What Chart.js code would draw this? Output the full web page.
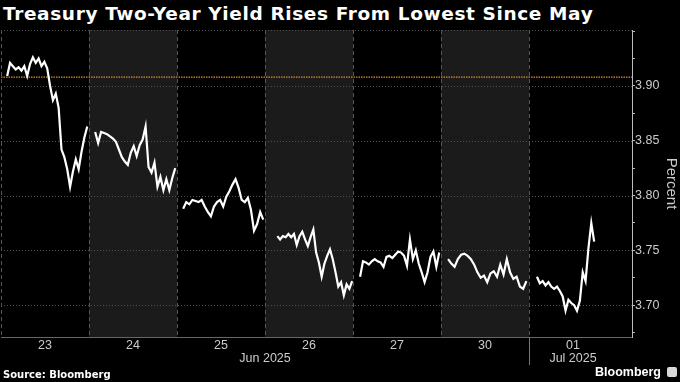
<!DOCTYPE html>
<html>
<head>
<meta charset="utf-8">
<script src="https://cdn.jsdelivr.net/npm/chart.js@4.4.1/dist/chart.umd.min.js"></script>
<style>
  html, body { margin: 0; padding: 0; background: #000; }
  body { width: 680px; height: 382px; position: relative; overflow: hidden; }
  #chart { position: absolute; left: 0; top: 0; }
  .title { position: absolute; left: 3px; top: 4.5px; color: #fff; font: bold 18.5px/18.5px 'DejaVu Sans', sans-serif; letter-spacing: 0.62px; white-space: nowrap; }
  .source { position: absolute; left: 3px; top: 369.5px; color: #fff; font: bold 10px/10px 'DejaVu Sans', sans-serif; white-space: nowrap; }
  .logo { position: absolute; left: 595px; top: 366px; color: #fff; font: bold 12.5px/12.5px 'Liberation Sans', sans-serif; white-space: nowrap; }
  .icon { position: absolute; left: 667px; top: 367px; width: 10px; height: 10px; background: #d8d8d8; border-radius: 2px; }
</style>
</head>
<body>
<div class="title">Treasury Two-Year Yield Rises From Lowest Since May</div>
<canvas id="chart" width="680" height="382"></canvas>
<div class="source">Source: Bloomberg</div>
<div class="logo">Bloomberg</div>
<div class="icon"></div>
<script>
// categories / axis labels
const dayLabels = ['23', '24', '25', '26', '27', '30', '01'];
const monthLabels = ['Jun 2025', 'Jul 2025'];
const monthCenters = [3, 6.5];   // in day units
const monthBreak = 6;            // Jun/Jul boundary
const shadedDays = [1, 3, 5];

// part of each day covered by trading (fraction of the day)
const dayStart = [0.07, 0.07, 0.07, 0.14, 0.08, 0.08, 0.09];
const dayEnd = [0.98, 0.98, 0.98, 0.99, 0.98, 0.97, 0.74];

// 2-year yield (percent)
const yield23 = [3.909, 3.921, 3.918, 3.915, 3.917, 3.914, 3.918, 3.909, 3.920, 3.926, 3.921, 3.925, 3.918, 3.922, 3.916,
  3.900, 3.887, 3.893, 3.880, 3.842, 3.835, 3.824, 3.808, 3.822, 3.833, 3.824, 3.840, 3.853, 3.863];
const yield24 = [3.858, 3.848, 3.858, 3.857, 3.856, 3.854, 3.852, 3.849, 3.842, 3.835, 3.831, 3.828, 3.839, 3.845,
  3.836, 3.846, 3.851, 3.863, 3.826, 3.821, 3.830, 3.808, 3.817, 3.805, 3.815, 3.805, 3.816, 3.825];
const yield25 = [3.788, 3.794, 3.792, 3.796, 3.795, 3.794, 3.796, 3.790, 3.785, 3.781, 3.790, 3.794, 3.796, 3.790,
  3.799, 3.804, 3.810, 3.815, 3.807, 3.796, 3.794, 3.798, 3.787, 3.768, 3.774, 3.785, 3.778];
const yield26 = [3.763, 3.760, 3.763, 3.762, 3.765, 3.762, 3.765, 3.755, 3.763, 3.767, 3.760, 3.754, 3.762, 3.769,
  3.748, 3.739, 3.726, 3.738, 3.745, 3.751, 3.742, 3.730, 3.717, 3.721, 3.709, 3.719, 3.715, 3.722];
const yield27 = [3.726, 3.740, 3.739, 3.737, 3.740, 3.742, 3.740, 3.739, 3.735, 3.744, 3.745, 3.743, 3.746, 3.749,
  3.748, 3.745, 3.736, 3.760, 3.742, 3.750, 3.738, 3.730, 3.721, 3.730, 3.744, 3.749, 3.735, 3.748];
const yield30 = [3.742, 3.738, 3.735, 3.742, 3.746, 3.747, 3.745, 3.742, 3.737, 3.730, 3.725, 3.727, 3.721, 3.729,
  3.731, 3.726, 3.737, 3.728, 3.742, 3.730, 3.724, 3.726, 3.717, 3.715, 3.722];
const yield01 = [3.726, 3.720, 3.722, 3.718, 3.721, 3.717, 3.715, 3.717, 3.713, 3.708, 3.695, 3.705, 3.702, 3.700,
  3.695, 3.704, 3.730, 3.722, 3.752, 3.775, 3.758];

const lowSinceMay = 3.908;

// axis ranges / ticks
const xMax = 7.17;
const yMin = 3.671, yMax = 3.951;
const yTickValues = [3.675, 3.70, 3.725, 3.75, 3.775, 3.80, 3.825, 3.85, 3.875, 3.90, 3.925, 3.95];
const yLabelValues = [3.70, 3.75, 3.80, 3.85, 3.90];

const days = [yield23, yield24, yield25, yield26, yield27, yield30, yield01];
const points = [];
days.forEach((vals, d) => {
  const step = (dayEnd[d] - dayStart[d]) / (vals.length - 1);
  vals.forEach((v, i) => points.push({ x: d + dayStart[d] + i * step, y: v }));
  points.push({ x: d + 1, y: null }); // break between sessions
});

const tickFont = { family: 'Liberation Sans', size: 12.5 };

// shaded days, dotted grid and dashed day separators
const backdrop = {
  id: 'backdrop',
  beforeDatasetsDraw(chart) {
    const { ctx, chartArea: a, scales: { x, y } } = chart;
    ctx.save();
    ctx.fillStyle = '#1b1b1b';
    shadedDays.forEach(d => {
      const l = x.getPixelForValue(d), r = x.getPixelForValue(d + 1);
      ctx.fillRect(l, a.top, r - l, a.bottom - a.top);
    });
    ctx.lineWidth = 1;
    ctx.strokeStyle = '#505050';
    ctx.setLineDash([1, 2]);
    [...yLabelValues, yMax].forEach(v => {
      const py = Math.round(y.getPixelForValue(v)) + 0.5;
      ctx.beginPath();
      ctx.moveTo(a.left, py);
      ctx.lineTo(a.right, py);
      ctx.stroke();
    });
    ctx.setLineDash([4, 3]);
    ctx.strokeStyle = '#555';
    for (let d = 0; d < dayLabels.length; d++) {
      const px = Math.round(x.getPixelForValue(d)) + 0.5;
      ctx.beginPath();
      ctx.moveTo(px, a.top);
      ctx.lineTo(px, a.bottom);
      ctx.stroke();
    }
    ctx.restore();
  },
  afterDraw(chart) {
    const { ctx, chartArea: a, scales: { x } } = chart;
    const px = Math.round(x.getPixelForValue(monthBreak)) + 0.5;
    ctx.save();
    ctx.strokeStyle = '#777';
    ctx.lineWidth = 1;
    ctx.beginPath();
    ctx.moveTo(px, a.bottom);
    ctx.lineTo(px, a.bottom + 28);
    ctx.stroke();
    ctx.restore();
  }
};

new Chart(document.getElementById('chart').getContext('2d'), {
  type: 'line',
  data: {
    datasets: [
      {
        data: points,
        borderColor: '#ffffff',
        borderWidth: 2.2,
        pointRadius: 0,
        tension: 0,
        spanGaps: false,
        order: 0
      },
      {
        data: [{ x: 0, y: lowSinceMay }, { x: xMax, y: lowSinceMay }],
        borderColor: '#e08a2c',
        borderWidth: 1.4,
        borderDash: [1.5, 1],
        pointRadius: 0,
        order: 1
      }
    ]
  },
  options: {
    responsive: false,
    animation: false,
    layout: { padding: { top: 30, left: 1, right: 0, bottom: 0 } },
    plugins: { legend: { display: false }, tooltip: { enabled: false } },
    scales: {
      x: {
        type: 'linear', min: 0, max: xMax,
        afterBuildTicks: s => { s.ticks = dayLabels.map((_, i) => ({ value: i + 0.5 })); },
        ticks: { callback: (v, i) => dayLabels[i], color: '#cccccc', font: tickFont, padding: 1, maxRotation: 0, autoSkip: false },
        grid: { display: false, drawTicks: false },
        border: { color: '#666', width: 1 },
        afterFit: s => { s.height = 14; }
      },
      x2: {
        type: 'linear', position: 'bottom', min: 0, max: xMax,
        afterBuildTicks: s => { s.ticks = monthCenters.map(v => ({ value: v })); },
        ticks: { callback: (v, i) => monthLabels[i], color: '#cccccc', font: tickFont, padding: 0, maxRotation: 0, autoSkip: false },
        grid: { display: false, drawTicks: false },
        border: { display: false },
        afterFit: s => { s.height = 31; }
      },
      y: {
        position: 'right', min: yMin, max: yMax,
        afterBuildTicks: s => { s.ticks = yTickValues.map(v => ({ value: v })); },
        ticks: {
          callback: v => yLabelValues.some(l => Math.abs(l - v) < 1e-6) ? v.toFixed(2) : '',
          color: '#cccccc', font: tickFont, padding: 0, autoSkip: false
        },
        grid: { drawOnChartArea: false, drawTicks: true, tickLength: 3, tickColor: '#bbbbbb' },
        border: { color: '#bbbbbb', width: 1 },
        title: { display: true, text: 'Percent', color: '#cccccc', font: { family: 'Liberation Sans', size: 15 }, padding: { top: 0, bottom: 0 } },
        afterFit: s => { s.width = 48; }
      }
    }
  },
  plugins: [backdrop]
});
</script>
</body>
</html>
